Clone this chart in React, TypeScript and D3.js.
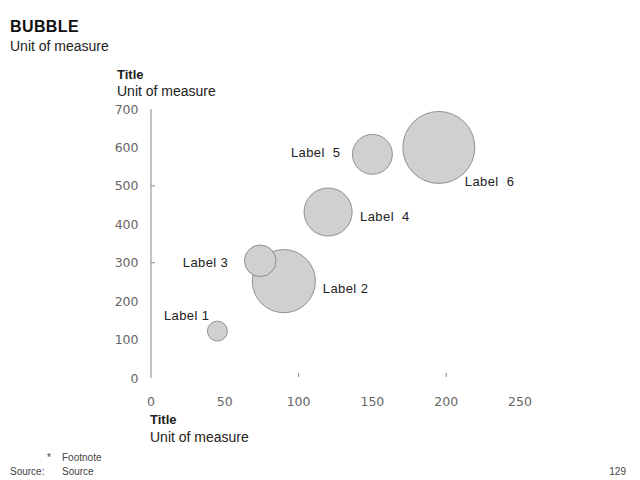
import React from "react";
import * as d3 from "d3";

const labels = ["Label 1", "Label 2", "Label 3", "Label  4", "Label  5", "Label  6"];
const xValues = [45, 90, 74, 120, 150, 195];
const yValues = [122, 252, 305, 432, 582, 600];
const sizes = [10, 100, 25, 58, 40, 130];
const yTicks = [0, 100, 200, 300, 400, 500, 600, 700];
const xTicks = [0, 50, 100, 150, 200, 250];
const yMarks = [300, 500];
const xMarks = [100, 200];

// label placement: [anchor, dx, dy] relative to bubble centre
const labelPlacement: [string, number, number][] = [
  ["end", -8, -11.5],
  ["start", 39, 11.5],
  ["end", -32, 6.5],
  ["start", 32, 9],
  ["end", -32, 2.5],
  ["start", 26, 38.5],
];

const FONT = "'Liberation Sans', Arial, sans-serif";
const TICK_FONT = "'DejaVu Sans', sans-serif";

export default function App() {
  const x = d3.scaleLinear().domain([0, 250]).range([151, 520]);
  const y = d3.scaleLinear().domain([0, 700]).range([378, 109]);
  const r = d3.scaleSqrt().domain([0, 130]).range([0, 36]);

  const data = labels.map((l, i) => ({
    label: l,
    x: xValues[i],
    y: yValues[i],
    s: sizes[i],
  }));

  return (
    <svg
      width={640}
      height={480}
      style={{ position: "absolute", left: 0, top: 0, background: "#fff" }}
      fontFamily={FONT}
    >
      <text x={10} y={32} fontSize={16} fontWeight="bold" fill="#111" letterSpacing={0.4}>BUBBLE</text>
      <text x={10} y={51} fontSize={14} fill="#222">Unit of measure</text>

      <text x={117} y={79} fontSize={13} fontWeight="bold" fill="#222">Title</text>
      <text x={117} y={96} fontSize={14} fill="#222">Unit of measure</text>

      {/* y axis line */}
      <line x1={x(0)} x2={x(0)} y1={y(700)} y2={y(0)} stroke="#888" strokeWidth={1} />
      {yMarks.map((v) => (
        <line key={"ym" + v} x1={x(0)} x2={x(0) + 4} y1={y(v)} y2={y(v)} stroke="#888" />
      ))}
      {xMarks.map((v) => (
        <line key={"xm" + v} x1={x(v)} x2={x(v)} y1={373} y2={377} stroke="#888" />
      ))}

      {yTicks.map((v) => (
        <text key={"yt" + v} x={138.5} y={y(v) + 4.5} fontSize={12.5} fontFamily={TICK_FONT} textAnchor="end" fill="#666">
          {v}
        </text>
      ))}
      {xTicks.map((v) => (
        <text key={"xt" + v} x={x(v)} y={406} fontSize={12.5} fontFamily={TICK_FONT} textAnchor="middle" fill="#666">
          {v}
        </text>
      ))}

      {data.map((d, i) => (
        <circle
          key={"c" + i}
          cx={x(d.x)}
          cy={y(d.y)}
          r={r(d.s)}
          fill="#d0d0d0"
          stroke="#7a7a7a"
          strokeWidth={0.8}
        />
      ))}
      {data.map((d, i) => {
        const [anchor, dx, dy] = labelPlacement[i];
        return (
          <text
            key={"l" + i}
            x={x(d.x) + dx}
            y={y(d.y) + dy}
            fontSize={13}
            textAnchor={anchor as any}
            fill="#222"
            letterSpacing={0.4}
            style={{ whiteSpace: "pre" }}
          >
            {d.label}
          </text>
        );
      })}

      <text x={150} y={424} fontSize={13} fontWeight="bold" fill="#222">Title</text>
      <text x={150} y={442} fontSize={14} fill="#222">Unit of measure</text>

      <text x={47} y={461} fontSize={10} fill="#444">*</text>
      <text x={62} y={461} fontSize={10} fill="#444">Footnote</text>
      <text x={10} y={475} fontSize={10} fill="#444">Source:</text>
      <text x={62} y={475} fontSize={10} fill="#444">Source</text>
      <text x={626} y={475} fontSize={10} textAnchor="end" fill="#444">129</text>
    </svg>
  );
}
